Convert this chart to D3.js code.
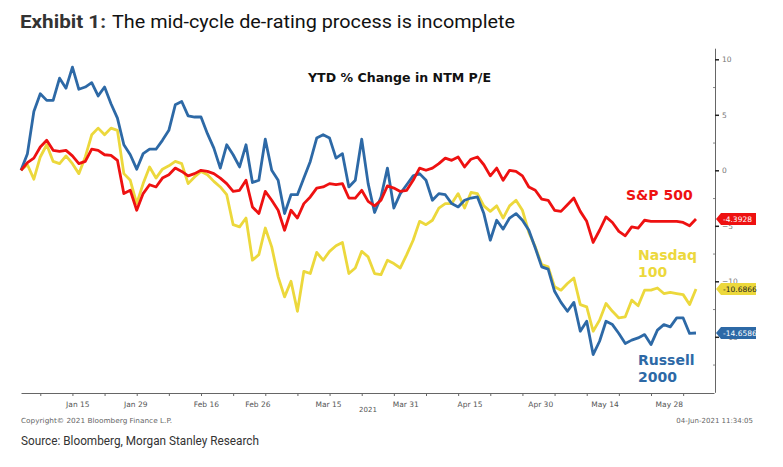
<!DOCTYPE html>
<html>
<head>
<meta charset="utf-8">
<script src="https://cdn.jsdelivr.net/npm/d3@7"></script>
<style>
body { margin: 0; background: #ffffff; }
</style>
</head>
<body>
<svg id="chart" width="783" height="467"></svg>
<script>
//data: YTD % change in NTM P/E, one value per trading day (Jan 4 .. Jun 4 2021)
var sp500 = [0, 0.7, 1.1, 2.1, 2.7, 1.8, 1.7, 1.8, 1.3, 0.6,
    0.8, 1.9, 1.8, 1.4, 1.35, 0.9, -2.1, -1.8, -3.6, -2.1,
    -1.3, -1.5, -0.7, -0.4, 0.2, -0.1, -0.5, -0.3, 0.0, -0.1,
    -0.3, -0.7, -1.2, -1.9, -1.8, -0.9, -3.3, -3.9, -1.9, -2.7,
    -3.6, -5.4, -3.6, -4.3, -3.0, -2.4, -1.6, -1.5, -1.2, -1.3,
    -1.2, -2.5, -2.5, -1.8, -2.8, -3.2, -2.7, -1.4, -1.6, -1.9,
    -1.8, -0.9, 0.2, 0.0, 0.2, 0.6, 1.1, 0.9, 1.2, 0.3,
    1.0, 1.2, 0.5, -0.5, 0.2, -0.9, 0.0, -0.1, -0.5, -1.5,
    -1.8, -2.6, -2.7, -3.6, -3.7, -3.1, -2.5, -3.7, -4.6, -6.5,
    -5.4, -4.2, -4.7, -5.5, -5.9, -5.1, -5.2, -4.5, -4.6, -4.6,
    -4.6, -4.6, -4.6, -4.7, -5.0, -4.3928];

var nasdaq100 = [0, 0.5, -0.8, 1.2, 2.3, 0.8, 0.6, 1.3, 0.6, -0.3,
    1.2, 3.2, 3.8, 3.2, 3.8, 3.6, -0.3, -0.9, -3.0, -1.2,
    0.3, -0.7, 0.1, 0.4, 0.8, 0.6, -1.2, -0.6, -0.1, -0.4,
    -1.0, -1.5, -2.2, -4.9, -5.1, -4.3, -8.1, -7.6, -5.2, -6.9,
    -9.6, -11.4, -10.0, -12.7, -9.1, -9.3, -7.4, -8.1, -7.3, -6.8,
    -6.5, -9.3, -8.8, -7.3, -7.8, -9.3, -9.4, -8.1, -8.4, -8.8,
    -7.6, -6.3, -4.6, -4.9, -4.5, -3.4, -3.0, -3.0, -2.1, -3.4,
    -2.0, -2.1, -3.2, -3.7, -3.2, -4.3, -3.2, -2.7, -3.6, -5.6,
    -6.9, -8.5, -8.7, -10.5, -10.8, -10.2, -9.7, -12.1, -12.3, -14.5,
    -13.5, -12.0, -12.7, -13.3, -13.2, -11.7, -12.2, -10.8, -10.8, -10.6,
    -11.1, -11.0, -11.1, -11.2, -12.1, -10.6866];

var russell2000 = [0, 1.5, 5.3, 6.9, 6.3, 6.3, 8.3, 7.4, 9.3, 7.3,
    7.5, 7.9, 6.7, 7.5, 6.0, 4.7, 2.3, 1.4, 0.1, 1.5,
    1.9, 1.9, 2.7, 3.6, 5.9, 6.2, 4.9, 4.8, 4.8, 3.3,
    2.0, 0.2, 2.3, 1.4, 0.3, 2.3, -1.1, -0.9, 2.8, 0.0,
    -0.9, -3.9, -2.2, -2.2, -0.7, 0.8, 2.9, 3.2, 2.9, 1.1,
    1.5, -1.5, -0.9, 2.8, -1.2, -3.8, -2.4, 0.2, -3.4, -2.1,
    -1.3, -0.5, -0.3, -0.9, -2.7, -2.1, -2.2, -3.0, -3.3, -2.7,
    -2.5, -2.4, -3.9, -6.3, -4.5, -5.3, -4.3, -3.9, -4.5, -5.4,
    -7.0, -8.7, -8.9, -10.9, -11.9, -12.7, -11.9, -14.5, -13.6, -16.6,
    -15.4, -13.6, -13.9, -14.7, -15.6, -15.3, -15.1, -14.8, -15.7, -14.4,
    -13.9, -14.1, -13.3, -13.3, -14.7, -14.6586];

var holidays = ["2021-01-18", "2021-02-15", "2021-04-02", "2021-05-31"];
var tickLabels = ["Jan 15", "Jan 29", "Feb 16", "Feb 26", "Mar 15", "Mar 31", "Apr 15", "Apr 30", "May 14", "May 28"];
var yTicks = [10, 5, 0, -5, -10, -15];

//series styles
var seriesList = [
    { name: ["Nasdaq", "100"], values: nasdaq100, color: "#ecd83c", text: "#1f1f1f", lx: 638, ly: 260 },
    { name: ["Russell", "2000"], values: russell2000, color: "#2d69a6", text: "#ffffff", lx: 638, ly: 365 },
    { name: ["S&P 500"], values: sp500, color: "#ee1111", text: "#ffffff", lx: 626, ly: 200 }
];

//trading days
var fmtIso = d3.utcFormat("%Y-%m-%d");
var fmtLabel = d3.utcFormat("%b %d");
var dates = d3.utcDays(new Date(Date.UTC(2021, 0, 4)), new Date(Date.UTC(2021, 5, 5)))
    .filter(d => d.getUTCDay() != 0 && d.getUTCDay() != 6 && holidays.indexOf(fmtIso(d)) < 0);

var svg = d3.select("#chart").style("background", "white");

var x = d3.scaleLinear().domain([0, 107.8]).range([21, 714]);
var y = d3.scaleLinear().domain([-20, 11]).range([392.3, 48.2]);

//header
svg.append("text").attr("x", 20).attr("y", 28)
    .attr("textLength", 86).attr("lengthAdjust", "spacingAndGlyphs")
    .style("font-family", "Roboto").style("font-weight", "bold").style("font-size", "19px").style("fill", "#333333")
    .text("Exhibit 1:");
svg.append("text").attr("x", 112).attr("y", 28)
    .attr("textLength", 403).attr("lengthAdjust", "spacingAndGlyphs")
    .style("font-family", "Roboto").style("font-size", "19px").style("fill", "#111111")
    .text("The mid-cycle de-rating process is incomplete");

//inner title
svg.append("text").attr("x", 308).attr("y", 81.5)
    .attr("textLength", 183).attr("lengthAdjust", "spacingAndGlyphs")
    .style("font-family", "DejaVu Sans").style("font-weight", "bold").style("font-size", "13px").style("fill", "#111111")
    .text("YTD % Change in NTM P/E");

//bottom axis
var minorIdx = d3.range(3, 106, 5);
var xAxisG = svg.append("g").attr("transform", "translate(0,393)")
    .call(d3.axisBottom(x).tickValues(minorIdx).tickSize(3).tickSizeOuter(0).tickFormat(""));
xAxisG.select(".domain").attr("stroke", "#666666");
xAxisG.selectAll(".tick line").attr("stroke", "#666666");

var labelIdx = tickLabels.map(l => dates.findIndex(d => fmtLabel(d) == l));
var xLabG = svg.append("g").attr("transform", "translate(0,393)")
    .call(d3.axisBottom(x).tickValues(labelIdx).tickSize(0).tickPadding(9)
        .tickFormat((d, i) => tickLabels[i]));
xLabG.select(".domain").remove();
xLabG.selectAll("text").attr("dx", -1.5).style("font-family", "DejaVu Sans").style("font-size", "7.5px").style("fill", "#555555");

//right axis
var yAxisG = svg.append("g").attr("transform", "translate(715,0)")
    .call(d3.axisRight(y).tickValues(yTicks).tickSize(4).tickSizeOuter(0).tickPadding(3));
yAxisG.select(".domain").attr("stroke", "#666666");
yAxisG.selectAll(".tick line").attr("stroke", "#222222").attr("stroke-width", 1.5);
yAxisG.selectAll("text").style("font-family", "DejaVu Sans").style("font-size", "7.5px").style("fill", "#777777");
var yMinorG = svg.append("g").attr("transform", "translate(715,0)")
    .call(d3.axisLeft(y).tickValues(d3.range(-17.5, 10, 5)).tickSize(2).tickFormat(""));
yMinorG.select(".domain").remove();
yMinorG.selectAll(".tick line").attr("stroke", "#888888");

//lines
var line = d3.line().x((d, i) => x(i)).y(d => y(d));
svg.selectAll(".series").data(seriesList).enter().append("path")
    .attr("class", "series")
    .attr("d", s => line(s.values))
    .attr("fill", "none")
    .attr("stroke", s => s.color)
    .attr("stroke-width", 2.8)
    .attr("stroke-linejoin", "round");

//series names
seriesList.forEach(function (s) {
    var t = svg.append("text").attr("x", s.lx).attr("y", s.ly)
        .style("font-family", "DejaVu Sans").style("font-weight", "bold").style("font-size", "14px")
        .style("fill", s.color);
    s.name.forEach(function (n, i) {
        t.append("tspan").attr("x", s.lx).attr("dy", i == 0 ? 0 : 16.5).text(n);
    });
});

//last value tags (drawn over the right axis labels, as in the source)
seriesList.forEach(function (s) {
    var v = s.values[s.values.length - 1];
    var ty = y(v);
    var pts = [[716, ty], [721, ty - 6], [756, ty - 6], [756, ty + 6], [721, ty + 6]];
    svg.append("polygon").attr("points", pts.map(p => p.join(",")).join(" ")).style("fill", s.color);
    svg.append("text").attr("x", 723).attr("y", ty + 2.6)
        .style("font-family", "DejaVu Sans").style("font-size", "7.5px").style("fill", s.text)
        .text(v.toFixed(4));
});

//footer
svg.append("text").attr("x", 368).attr("y", 412).attr("text-anchor", "middle")
    .style("font-family", "DejaVu Sans").style("font-size", "7px").style("fill", "#555555").text("2021");
svg.append("text").attr("x", 21).attr("y", 422.5)
    .attr("textLength", 151).attr("lengthAdjust", "spacingAndGlyphs")
    .style("font-family", "DejaVu Sans").style("font-size", "7px").style("fill", "#666666")
    .text("Copyright\u00a9 2021 Bloomberg Finance L.P.");
svg.append("text").attr("x", 753).attr("y", 423).attr("text-anchor", "end")
    .style("font-family", "DejaVu Sans").style("font-size", "7px").style("fill", "#666666")
    .text("04-Jun-2021 11:34:05");
svg.append("text").attr("x", 21).attr("y", 444.5)
    .attr("textLength", 238).attr("lengthAdjust", "spacingAndGlyphs")
    .style("font-family", "Roboto").style("font-size", "13px").style("fill", "#333333")
    .text("Source: Bloomberg, Morgan Stanley Research");
</script>
</body>
</html>
